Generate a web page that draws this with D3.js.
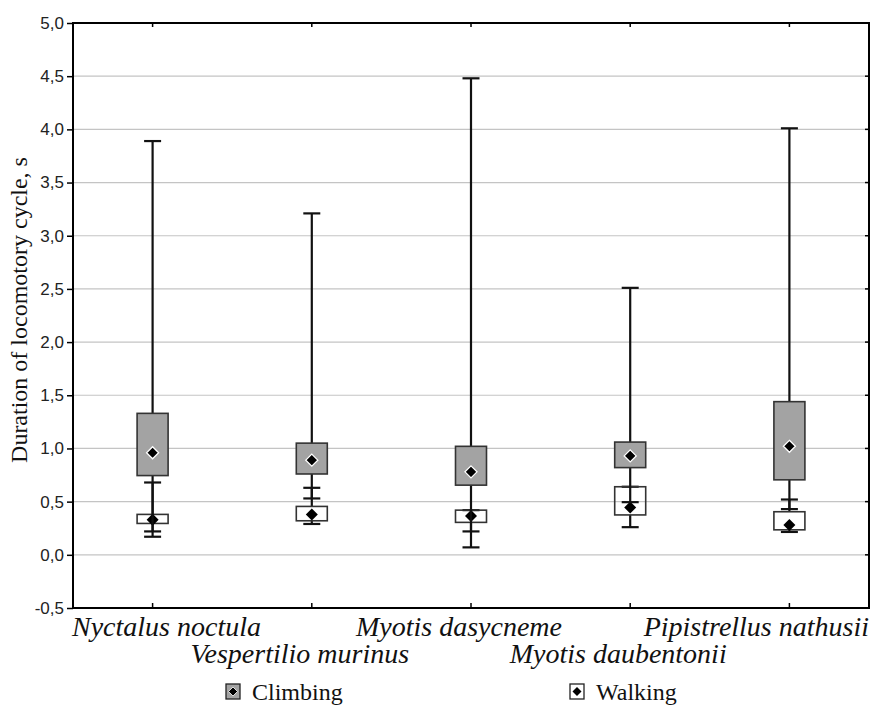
<!DOCTYPE html>
<html>
<head>
<meta charset="utf-8">
<script src="https://d3js.org/d3.v7.min.js"></script>
<style>
  body { margin: 0; background: #fff; }
</style>
</head>
<body>
<svg id="chart" width="873" height="706"></svg>
<script>
// species on the x axis
const species = ["Nyctalus noctula", "Vespertilio murinus", "Myotis dasycneme", "Myotis daubentonii", "Pipistrellus nathusii"];

// climbing: mean, box (low/high), whiskers (min/max)
const climbMean = [0.96, 0.89, 0.78, 0.93, 1.02];
const climbLow  = [0.745, 0.76, 0.655, 0.82, 0.705];
const climbHigh = [1.33, 1.05, 1.02, 1.06, 1.44];
const climbMin  = [0.22, 0.53, 0.07, 0.495, 0.43];
const climbMax  = [3.89, 3.21, 4.48, 2.51, 4.01];

// walking
const walkMean = [0.33, 0.38, 0.365, 0.445, 0.28];
const walkLow  = [0.295, 0.32, 0.305, 0.375, 0.235];
const walkHigh = [0.38, 0.455, 0.42, 0.64, 0.405];
const walkMin  = [0.17, 0.29, 0.22, 0.26, 0.215];
const walkMax  = [0.68, 0.63, 0.42, 0.64, 0.52];

const yTicks = [-0.5, 0, 0.5, 1, 1.5, 2, 2.5, 3, 3.5, 4, 4.5, 5];
const yTitle = "Duration of locomotory cycle, s";
const legendNames = ["Climbing", "Walking"];

const serif = "'Liberation Serif', 'Times New Roman', serif";
const sans = "'Liberation Sans', Arial, sans-serif";

const svg = d3.select("#chart");
const margin = {left: 73, right: 4, top: 23, bottom: 98};
const width = 873, height = 706;

const x = d3.scalePoint()
    .domain(species)
    .range([margin.left, width - margin.right])
    .padding(0.5);
const y = d3.scaleLinear()
    .domain([-0.5, 5])
    .range([height - margin.bottom, margin.top]);

const loc = d3.formatLocale({decimal: ",", thousands: " ", grouping: [3], currency: ["", ""], minus: "-"});
const fmt = loc.format(".1f");

// grid
svg.append("g")
  .selectAll("line")
  .data(yTicks.slice(1, -1))
  .join("line")
    .attr("x1", margin.left).attr("x2", width - margin.right)
    .attr("y1", d => y(d)).attr("y2", d => y(d))
    .attr("stroke", "#c4c4c4")
    .attr("stroke-width", 1.2);

// y axis
const yAxis = svg.append("g")
    .attr("transform", `translate(${margin.left},0)`)
    .call(d3.axisLeft(y).tickValues(yTicks).tickFormat(fmt).tickSize(6).tickSizeOuter(0).tickPadding(3));
yAxis.select(".domain").remove();
yAxis.selectAll("line").attr("stroke", "#000").attr("stroke-width", 1.5);
yAxis.selectAll("text")
    .attr("font-family", sans)
    .attr("font-size", 17)
    .attr("fill", "#222");

// right ticks (inward)
svg.append("g")
  .selectAll("line")
  .data(yTicks)
  .join("line")
    .attr("x1", width - margin.right).attr("x2", width - margin.right - 4)
    .attr("y1", d => y(d)).attr("y2", d => y(d))
    .attr("stroke", "#000").attr("stroke-width", 1.5);

// top & bottom ticks (inward)
svg.append("g")
  .selectAll("line")
  .data(species)
  .join("line")
    .attr("x1", d => x(d)).attr("x2", d => x(d))
    .attr("y1", margin.top).attr("y2", margin.top + 4)
    .attr("stroke", "#000").attr("stroke-width", 1.5);
svg.append("g")
  .selectAll("line")
  .data(species)
  .join("line")
    .attr("x1", d => x(d)).attr("x2", d => x(d))
    .attr("y1", height - margin.bottom).attr("y2", height - margin.bottom - 5)
    .attr("stroke", "#000").attr("stroke-width", 1.5);

const boxW = 31, capW = 17;

function drawSeries(mean, low, high, min, max, fill, outline) {
  const g = svg.append("g");
  species.forEach((s, i) => {
    const cx = x(s);
    // whiskers
    g.append("line")
      .attr("x1", cx).attr("x2", cx)
      .attr("y1", y(high[i])).attr("y2", y(max[i]))
      .attr("stroke", "#111").attr("stroke-width", 2.2);
    g.append("line")
      .attr("x1", cx).attr("x2", cx)
      .attr("y1", y(low[i])).attr("y2", y(min[i]))
      .attr("stroke", "#111").attr("stroke-width", 2.2);
    [min[i], max[i]].forEach(v => {
      g.append("line")
        .attr("x1", cx - capW / 2).attr("x2", cx + capW / 2)
        .attr("y1", y(v)).attr("y2", y(v))
        .attr("stroke", "#111").attr("stroke-width", 2.2);
    });
    // box
    g.append("rect")
      .attr("x", cx - boxW / 2)
      .attr("y", y(high[i]))
      .attr("width", boxW)
      .attr("height", y(low[i]) - y(high[i]))
      .attr("fill", fill)
      .attr("stroke", "#333")
      .attr("stroke-width", 1.6);
    // mean marker
    const m = y(mean[i]);
    g.append("path")
      .attr("d", `M${cx},${m - 6}L${cx + 6},${m}L${cx},${m + 6}L${cx - 6},${m}Z`)
      .attr("fill", "#000")
      .attr("stroke", outline)
      .attr("stroke-width", 1.3);
  });
}

drawSeries(walkMean, walkLow, walkHigh, walkMin, walkMax, "none", "none");
drawSeries(climbMean, climbLow, climbHigh, climbMin, climbMax, "#a3a3a3", "#fff");

// frame
svg.append("rect")
    .attr("x", margin.left).attr("y", margin.top)
    .attr("width", width - margin.left - margin.right)
    .attr("height", height - margin.top - margin.bottom)
    .attr("fill", "none")
    .attr("stroke", "#000")
    .attr("stroke-width", 2);

// category labels, alternating rows, kept inside the plot width
const labels = svg.append("g")
  .selectAll("text")
  .data(species)
  .join("text")
    .attr("font-family", serif)
    .attr("font-style", "italic")
    .attr("font-size", 28)
    .attr("fill", "#111")
    .attr("y", (d, i) => i % 2 === 0 ? 636 : 663)
    .text(d => d);
labels.each(function(d) {
  const w = this.getComputedTextLength();
  let left = x(d) - 12 - w / 2;
  left = Math.max(margin.left - 1, Math.min(width - margin.right - w, left));
  d3.select(this).attr("x", left);
});

// y title
svg.append("text")
    .attr("transform", `translate(27,${(153 + 467) / 2}) rotate(-90)`)
    .attr("text-anchor", "middle")
    .attr("font-family", serif)
    .attr("font-size", 24)
    .attr("fill", "#111")
    .text(yTitle);

// legend
const legendX = [226, 570];
const legendFill = ["#a3a3a3", "#fff"];
const leg = svg.append("g")
  .selectAll("g")
  .data(legendNames)
  .join("g")
    .attr("transform", (d, i) => `translate(${legendX[i]},684)`);
leg.append("rect")
    .attr("width", 14).attr("height", 15)
    .attr("fill", (d, i) => legendFill[i])
    .attr("stroke", "#222").attr("stroke-width", 1.3);
leg.append("path")
    .attr("d", "M7,3L11.5,7.5L7,12L2.5,7.5Z")
    .attr("fill", "#000")
    .attr("stroke", (d, i) => i === 0 ? "#fff" : "none")
    .attr("stroke-width", 0.8);
leg.append("text")
    .attr("x", 26).attr("y", 16)
    .attr("font-family", serif)
    .attr("font-size", 24)
    .attr("fill", "#111")
    .text(d => d);
</script>
</body>
</html>
